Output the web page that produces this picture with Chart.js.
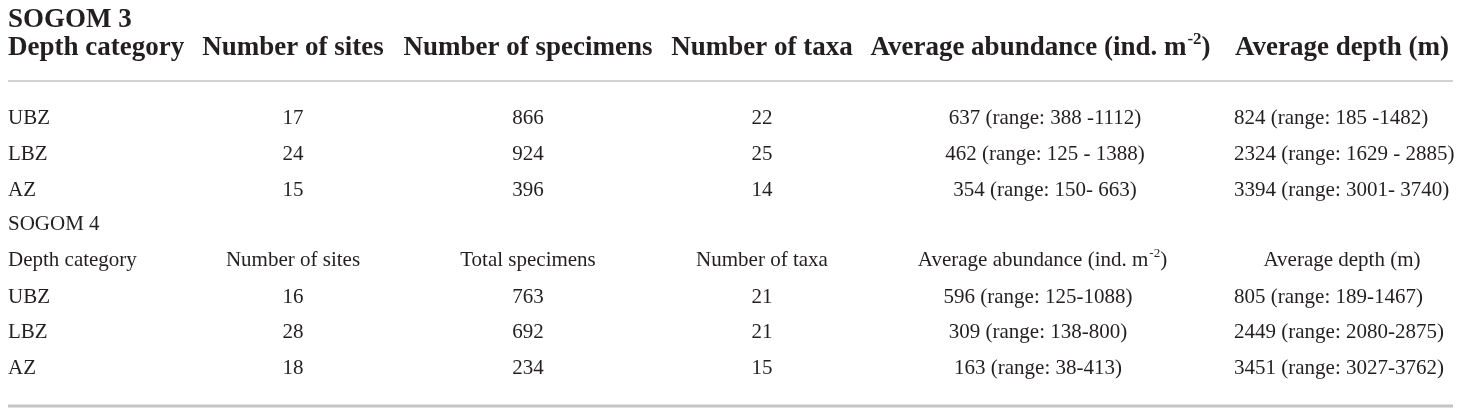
<!DOCTYPE html>
<html>
<head>
<meta charset="utf-8">
<script src="https://cdn.jsdelivr.net/npm/chart.js@4.4.1/dist/chart.umd.min.js"></script>
<style>
  html, body { margin: 0; padding: 0; background: #fff; }
  #table { display: block; }
</style>
</head>
<body>
<canvas id="table" width="1460" height="414"></canvas>
<script>

/* DATA */

const depthCats = ["UBZ", "LBZ", "AZ"]

const headers3 = ["Depth category", "Number of sites", "Number of specimens", "Number of taxa", "Average abundance (ind. m", "Average depth (m)"]
const sites3 = [17, 24, 15]
const specimens3 = [866, 924, 396]
const taxa3 = [22, 25, 14]
const abundance3 = [637, 462, 354]
const abundanceRange3 = ["388 -1112", "125 - 1388", "150- 663"]
const depth3 = [824, 2324, 3394]
const depthRange3 = ["185 -1482", "1629 - 2885", "3001- 3740"]

const headers4 = ["Depth category", "Number of sites", "Total specimens", "Number of taxa", "Average abundance (ind. m", "Average depth (m)"]
const sites4 = [16, 28, 18]
const specimens4 = [763, 692, 234]
const taxa4 = [21, 21, 15]
const abundance4 = [596, 309, 163]
const abundanceRange4 = ["125-1088", "138-800", "38-413"]
const depth4 = [805, 2449, 3451]
const depthRange4 = ["189-1467", "2080-2875", "3027-3762"]


/* LAYOUT */

const FONT = "'Liberation Serif', 'Times New Roman', serif"
const INK = "#231f20"

// column anchors in axis units (x axis runs 0..1460)
const colLeft = 8
const colSites = 293
const colSpecimens = 528
const colTaxa = 762
const colDepthLeft = 1234
const colDepthHead = 1342

const layout3 = { title: 27, head: 55, rows: [124, 160, 196], abHead: 1040, abData: 1045, bold: true }
const layout4 = { title: 230, head: 266, rows: [303, 338, 374], abHead: 1042, abData: 1038, bold: false }

const ruleHead = 81
const ruleBottom = 406


/* BUILD CELLS */

const cells = []

function addCell(x, y, parts, align, bold) {
    cells.push({ x: x, y: y, parts: parts, align: align, bold: bold })
}

function addSection(title, headers, sites, specimens, taxa, abundance, abRange, depth, dRange, lay) {
    addCell(colLeft, lay.title, [title], "left", lay.bold)

    addCell(colLeft, lay.head, [headers[0]], "left", lay.bold)
    addCell(colSites, lay.head, [headers[1]], "center", lay.bold)
    addCell(colSpecimens, lay.head, [headers[2]], "center", lay.bold)
    addCell(colTaxa, lay.head, [headers[3]], "center", lay.bold)
    addCell(lay.abHead, lay.head, [headers[4], { sup: "-2" }, ")"], "center", lay.bold)
    addCell(colDepthHead, lay.head, [headers[5]], "center", lay.bold)

    depthCats.forEach((cat, i) => {
        const y = lay.rows[i]
        addCell(colLeft, y, [cat], "left", false)
        addCell(colSites, y, [String(sites[i])], "center", false)
        addCell(colSpecimens, y, [String(specimens[i])], "center", false)
        addCell(colTaxa, y, [String(taxa[i])], "center", false)
        addCell(lay.abData, y, [abundance[i] + " (range: " + abRange[i] + ")"], "center", false)
        addCell(colDepthLeft, y, [depth[i] + " (range: " + dRange[i] + ")"], "left", false)
    })
}

addSection("SOGOM 3", headers3, sites3, specimens3, taxa3, abundance3, abundanceRange3, depth3, depthRange3, layout3)
addSection("SOGOM 4", headers4, sites4, specimens4, taxa4, abundance4, abundanceRange4, depth4, depthRange4, layout4)


/* TEXT PLUGIN */

const cellText = {
    id: "cellText",
    afterDatasetsDraw(chart) {
        const ctx = chart.ctx
        const meta = chart.getDatasetMeta(0)
        ctx.save()
        ctx.fillStyle = INK
        ctx.textBaseline = "alphabetic"
        ctx.textAlign = "left"

        meta.data.forEach((pt, i) => {
            const c = chart.data.datasets[0].data[i]
            const size = c.bold ? 27 : 21
            const main = (c.bold ? "bold " : "") + size + "px " + FONT
            const supSize = Math.round(size * 0.62)
            const sup = (c.bold ? "bold " : "") + supSize + "px " + FONT

            // measure
            let w = 0
            c.parts.forEach(p => {
                ctx.font = typeof p === "string" ? main : sup
                w += ctx.measureText(typeof p === "string" ? p : p.sup).width
            })

            let x = c.align === "center" ? pt.x - w / 2 : pt.x
            c.parts.forEach(p => {
                if (typeof p === "string") {
                    ctx.font = main
                    ctx.fillText(p, x, pt.y)
                    x += ctx.measureText(p).width
                } else {
                    ctx.font = sup
                    ctx.fillText(p.sup, x + 1, pt.y - size * 0.42)
                    x += ctx.measureText(p.sup).width + 1
                }
            })
        })
        ctx.restore()
    }
}


/* CHART */

const tableChart = new Chart(
    document.getElementById("table"),
    {
        type: "scatter",

        data: {
            datasets: [
                {
                    data: cells,
                    pointRadius: 0,
                    pointHoverRadius: 0
                },
                {
                    data: [{ x: 8, y: ruleHead }, { x: 1453, y: ruleHead }],
                    showLine: true,
                    borderColor: "#d2d2d2",
                    borderWidth: 2,
                    pointRadius: 0
                },
                {
                    data: [{ x: 8, y: ruleBottom }, { x: 1453, y: ruleBottom }],
                    showLine: true,
                    borderColor: "#c4c4c4",
                    borderWidth: 3,
                    pointRadius: 0
                }
            ]
        },

        options: {
            responsive: false,
            animation: false,
            layout: { padding: 0 },
            plugins: { legend: { display: false }, tooltip: { enabled: false } },
            scales: {
                x: { type: "linear", min: 0, max: 1460, display: false },
                y: { type: "linear", min: 0, max: 414, reverse: true, display: false }
            }
        },

        plugins: [cellText]
    })

</script>
</body>
</html>
